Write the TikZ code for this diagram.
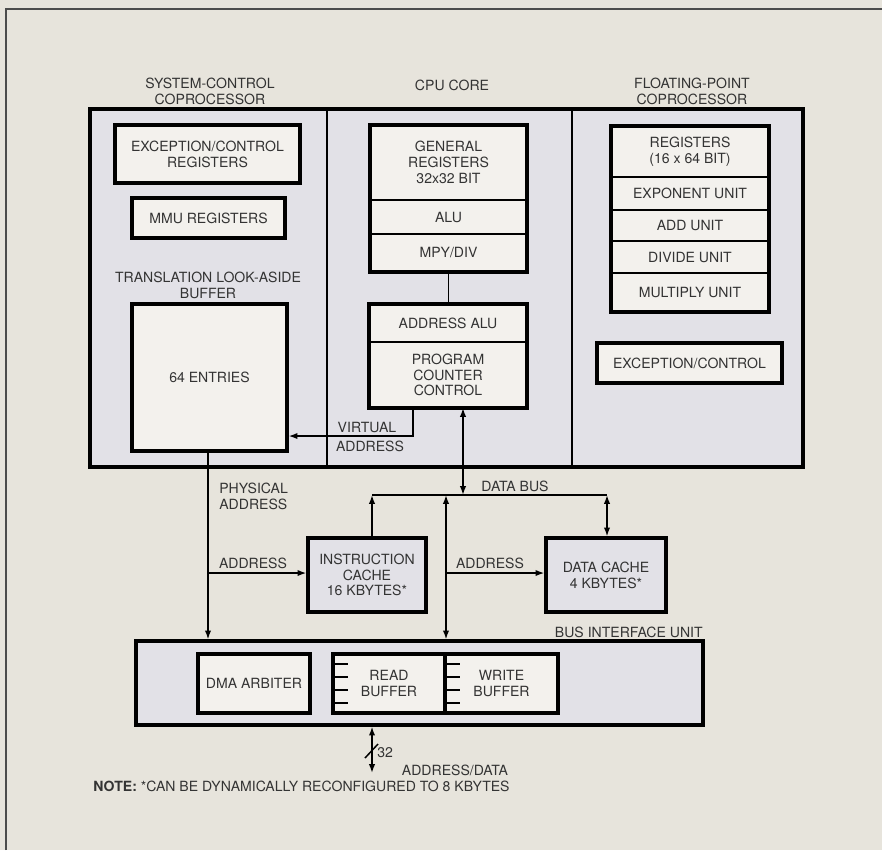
\documentclass[tikz,border=0pt]{standalone}
\usepackage{fontspec}
\setmainfont{TeX Gyre Heros}
\usetikzlibrary{arrows.meta}

\definecolor{paper}{HTML}{E7E4DC}
\definecolor{chipfill}{HTML}{E2E1E7}
\definecolor{unitfill}{HTML}{F3F1ED}
\definecolor{ink}{HTML}{333333}

\begin{document}
\begin{tikzpicture}[x=0.02cm, y=-0.02cm,
  txt/.style={font=\fontsize{8}{9}\selectfont, text=ink, align=center, inner sep=0pt},
  chip/.style={draw, line width=1.9pt, fill=chipfill, inner sep=0pt},
  unit/.style={draw, line width=1.9pt, fill=unitfill, inner sep=0pt,
    font=\fontsize{8}{9}\selectfont, text=ink, align=center},
  part/.style={draw, line width=0.8pt, fill=unitfill, inner sep=0pt, outer sep=0pt,
    font=\fontsize{8}{9}\selectfont, text=ink, align=center},
  cache/.style={unit, fill=chipfill},
  frame/.style={line width=1.9pt},
  wire/.style={line width=0.85pt},
  arr/.style={wire, -{Latex[length=5pt,width=3.6pt]}},
  darr/.style={wire, {Latex[length=5pt,width=3.6pt]}-{Latex[length=5pt,width=3.6pt]}},
]

% Page and border
\useasboundingbox (0,0) rectangle (882,850);
\fill[paper] (0,0) rectangle (882,850);
\draw[line width=0.8pt, black!70] (6,850) -- (6,9) -- (882,9);

% Processor chip with three columns
\node[chip, minimum width=14.26cm, minimum height=7.16cm] (chip) at (446.5,288) {};
\draw[wire] (327,109) -- (327,467);
\draw[wire] (572,109) -- (572,467);

% Column titles
\node[txt] (tsys) at (210,91) {SYSTEM-CONTROL\\COPROCESSOR};
\node[txt] (tcpu) at (452,85) {CPU CORE};
\node[txt] (tfpu) at (692,91) {FLOATING-POINT\\COPROCESSOR};

% System-control coprocessor
\node[unit, minimum width=3.70cm, minimum height=1.16cm] (exreg) at (207.5,154) {EXCEPTION/CONTROL\\REGISTERS};
\node[unit, minimum width=3.06cm, minimum height=0.80cm] (mmu) at (208.5,218) {MMU REGISTERS};
\node[txt] (tlbname) at (208,285.5) {TRANSLATION LOOK-ASIDE\\BUFFER};
\node[unit, minimum width=3.10cm, minimum height=2.94cm] (tlb) at (209.5,377.5) {64 ENTRIES};

% CPU core
\node[part, minimum width=3.14cm, minimum height=1.50cm] (gpr) at (448.5,162.5) {GENERAL\\REGISTERS\\32x32 BIT};
\node[part, minimum width=3.14cm, minimum height=0.68cm] (alu) at (448.5,217) {ALU};
\node[part, minimum width=3.14cm, minimum height=0.76cm] (mpy) at (448.5,253) {MPY/DIV};
\draw[frame] (gpr.north west) rectangle (mpy.south east);

\node[part, minimum width=3.16cm, minimum height=0.76cm] (aalu) at (448,323) {ADDRESS ALU};
\node[part, minimum width=3.16cm, minimum height=1.32cm] (pcc) at (448,375) {PROGRAM\\COUNTER\\CONTROL};
\draw[frame] (aalu.north west) rectangle (pcc.south east);

\draw[wire] (mpy.south) -- (mpy.south |- aalu.north);

% Floating-point coprocessor
\node[part, minimum width=3.16cm, minimum height=1.02cm] (fpreg) at (690,151.5) {REGISTERS\\(16 x 64 BIT)};
\node[part, minimum width=3.16cm, minimum height=0.66cm] (fpexp) at (690,193.5) {EXPONENT UNIT};
\node[part, minimum width=3.16cm, minimum height=0.62cm] (fpadd) at (690,225.5) {ADD UNIT};
\node[part, minimum width=3.16cm, minimum height=0.64cm] (fpdiv) at (690,257) {DIVIDE UNIT};
\node[part, minimum width=3.16cm, minimum height=0.78cm] (fpmul) at (690,292.5) {MULTIPLY UNIT};
\draw[frame] (fpreg.north west) rectangle (fpmul.south east);
\node[unit, minimum width=3.70cm, minimum height=0.80cm] (fpexc) at (689.5,363) {EXCEPTION/CONTROL};

% Virtual address
\coordinate (vabend) at (413,436);
\draw[arr] (vabend |- pcc.south) -- (vabend) -- (vabend -| tlb.east);
\node[txt] (tva1) at (367,427) {VIRTUAL};
\node[txt] (tva2) at (370,446) {ADDRESS};

% Caches
\node[cache, minimum width=2.36cm, minimum height=1.48cm] (icache) at (367,575) {INSTRUCTION\\CACHE\\16 KBYTES*};
\node[cache, minimum width=2.40cm, minimum height=1.48cm] (dcache) at (606,575) {DATA CACHE\\4 KBYTES*};

% Bus interface unit
\node[cache, minimum width=11.34cm, minimum height=1.68cm] (biu) at (419.5,683) {};
\node[txt, anchor=east] (tbiu) at (703,632) {BUS INTERFACE UNIT};
\node[unit, minimum width=2.24cm, minimum height=1.18cm] (dma) at (254,683.5) {DMA ARBITER};
\node[unit, minimum width=2.24cm, minimum height=1.18cm] (rbuf) at (389,683.5) {READ\\BUFFER};
\node[unit, minimum width=2.26cm, minimum height=1.18cm] (wbuf) at (501.5,683.5) {WRITE\\BUFFER};
\foreach \y in {664,677,690,703} {
  \draw[wire] (333,\y) -- ++(15,0);
  \draw[wire] (445,\y) -- ++(15,0);
}

% Data bus
\coordinate (busL) at (372,495);
\coordinate (busM) at (446,495);
\coordinate (busC) at (463,495);
\coordinate (busR) at (607,495);
\draw[wire] (busL) -- (busR);
\node[txt] (tbus) at (515,486) {DATA BUS};
\draw[darr] (busC |- pcc.south) -- (busC);
\draw[arr] (busL |- icache.north) -- (busL);
\draw[darr] (busR) -- (busR |- dcache.north);
\draw[darr] (busM) -- (busM |- biu.north);

% Addresses to caches
\coordinate (dcadr) at (446,573);
\draw[arr] (dcadr) -- (dcadr -| dcache.west);
\node[txt] (tdcadr) at (490,563) {ADDRESS};

\coordinate (phys) at (208,573);
\draw[arr] (phys |- tlb.south) -- (phys |- biu.north);
\draw[arr] (phys) -- (phys -| icache.west);
\node[txt] (ticadr) at (253,563) {ADDRESS};
\node[txt, anchor=west, align=left] (tphys) at (219,496.5) {PHYSICAL\\ADDRESS};

% External address/data bus
\coordinate (extbus) at (372,773);
\draw[darr] (extbus |- biu.south) -- (extbus);
\draw[wire] (365,758) -- (378,744);
\node[txt, anchor=west] (t32) at (377,753) {32};
\node[txt] (tad) at (455,770) {ADDRESS/DATA};

% Note
\node[txt, anchor=west] (note) at (93,786) {\textbf{NOTE:} *CAN BE DYNAMICALLY RECONFIGURED TO 8 KBYTES};

\end{tikzpicture}
\end{document}
